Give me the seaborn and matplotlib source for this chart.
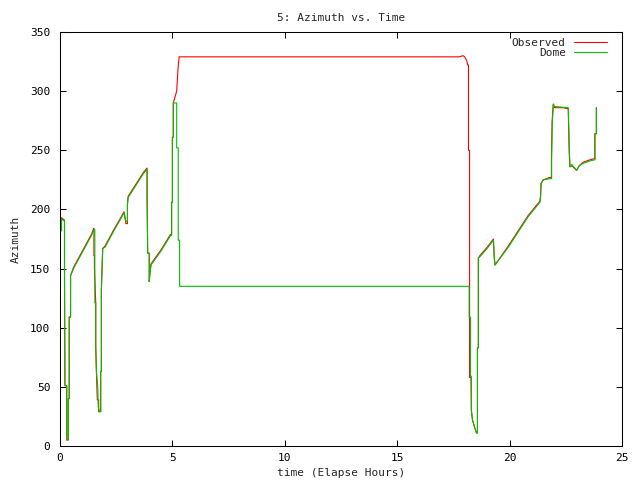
import matplotlib
matplotlib.use("Agg")
import matplotlib.pyplot as plt
import seaborn as sns
import pandas as pd

# ---- data ----
dome_t = [0.00, 0.00, 0.02, 0.02, 0.07, 0.07, 0.20, 0.20, 0.22, 0.30, 0.30, 0.37, 0.37, 0.41, 0.41, 0.47, 0.47,
          0.60, 0.80, 1.00, 1.20, 1.40, 1.51, 1.55, 1.55, 1.59, 1.59, 1.62, 1.68, 1.70, 1.76, 1.81, 1.81, 1.84, 1.84, 1.90,
          2.00, 2.40, 2.85, 2.93, 3.00, 3.00, 3.03, 3.40, 3.70, 3.88, 3.88, 3.90, 3.97, 3.97, 4.00, 4.05,
          4.50, 4.92, 4.97, 4.97, 5.00, 5.00, 5.04, 5.04, 5.19, 5.19, 5.26, 5.26, 5.32, 5.32,
          18.20, 18.20, 18.26, 18.26, 18.30, 18.30, 18.35, 18.44, 18.53, 18.57, 18.57, 18.61, 18.61, 18.68,
          19.00, 19.28, 19.32, 19.35, 19.94, 20.83, 21.35, 21.38, 21.40, 21.50, 21.77, 21.87, 21.87, 21.90, 21.95,
          22.00, 22.61, 22.63, 22.66, 22.69, 22.77, 22.98, 23.10, 23.28, 23.58, 23.80, 23.80, 23.86, 23.86]
dome_az = [160, 167, 167, 182, 182, 192, 190, 144, 51, 51, 6, 6, 40, 40, 109, 109, 144,
           150, 157, 164, 171, 178, 183, 183, 121, 121, 84, 63, 50, 33, 29, 29, 63, 63, 132, 167,
           168, 182, 197, 190, 190, 204, 210, 221, 230, 234, 211, 163, 163, 139, 146, 153,
           165, 178, 178, 206, 206, 261, 261, 290, 290, 252, 252, 174, 174, 135,
           135, 109, 109, 59, 59, 30, 22, 16, 11, 11, 83, 83, 159, 160,
           167, 174, 159, 153, 168, 194, 206, 212, 222, 225, 226, 226, 242, 274, 289,
           287, 286, 273, 249, 236, 238, 233, 237, 239, 241, 242, 264, 264, 286]

obs_t = [0.00, 0.00, 0.02, 0.02, 0.06, 0.06, 0.20, 0.20, 0.22, 0.30, 0.30, 0.37, 0.37, 0.41, 0.41, 0.47, 0.47,
         0.60, 0.80, 1.00, 1.20, 1.40, 1.50, 1.51, 1.51, 1.53, 1.53, 1.59, 1.59, 1.64, 1.66, 1.72, 1.72, 1.76, 1.81, 1.81,
         1.84, 1.84, 1.90, 2.00, 2.40, 2.85, 2.93, 3.00, 3.00, 3.03, 3.40, 3.70, 3.87, 3.87, 3.90, 3.97, 3.97,
         4.00, 4.05, 4.50, 4.92, 4.96, 4.96, 5.00, 5.00, 5.04, 5.04, 5.19, 5.19, 5.25, 5.25, 5.30, 5.30,
         17.76, 17.93, 18.00, 18.09, 18.14, 18.17, 18.17, 18.22, 18.22, 18.28, 18.30, 18.30, 18.35, 18.44,
         18.53, 18.57, 18.57, 18.61, 18.61, 18.68, 19.00, 19.28, 19.32, 19.35, 19.94, 20.83, 21.35, 21.38, 21.40,
         21.50, 21.77, 21.86, 21.86, 21.89, 21.94, 22.00, 22.40, 22.61, 22.62, 22.65, 22.68, 22.77, 22.98,
         23.10, 23.28, 23.58, 23.79, 23.79, 23.86, 23.86]
obs_az = [162, 167, 167, 182, 182, 193, 191, 144, 51, 51, 5, 5, 40, 40, 109, 109, 144,
          151, 158, 165, 172, 179, 184, 184, 161, 161, 151, 121, 84, 50, 39, 39, 29, 29, 29, 63,
          63, 132, 167, 169, 183, 198, 188, 188, 204, 211, 222, 231, 235, 211, 163, 163, 139,
          146, 154, 166, 179, 179, 206, 206, 261, 261, 290, 300, 300, 319, 319, 329, 329,
          329, 330, 329, 326, 322, 322, 250, 250, 58, 58, 30, 30, 22, 16,
          11, 11, 83, 83, 159, 161, 168, 175, 159, 153, 169, 195, 207, 212, 222,
          225, 227, 227, 242, 274, 289, 286, 286, 285, 273, 249, 236, 237, 233,
          237, 240, 242, 243, 264, 264, 286]

x_ticks = [0, 5, 10, 15, 20, 25]
y_ticks = [0, 50, 100, 150, 200, 250, 300, 350]

df_obs = pd.DataFrame({"t": obs_t, "az": obs_az})
df_dome = pd.DataFrame({"t": dome_t, "az": dome_az})

sns.set_style("ticks")
plt.rcParams["font.family"] = ["DejaVu Sans Mono", "DejaVu Sans"]

fig = plt.figure(figsize=(6.4, 4.8), dpi=100)
ax = fig.add_axes([60 / 640, 1 - 446 / 480, (622 - 60) / 640, (446 - 32) / 480])

sns.lineplot(data=df_obs, x="t", y="az", ax=ax, color="#ff0000", lw=0.8,
             estimator=None, sort=False, label="Observed")
sns.lineplot(data=df_dome, x="t", y="az", ax=ax, color="#00c000", lw=0.8,
             estimator=None, sort=False, label="Dome")

ax.set_xlim(0, 25)
ax.set_ylim(0, 350)
ax.set_xticks(x_ticks)
ax.set_yticks(y_ticks)
ax.tick_params(direction="in", length=4.5, width=0.75, top=True, right=True,
               labelsize=8, colors="black")
ax.tick_params(axis="x", pad=5)
ax.tick_params(axis="y", pad=7)
for s in ax.spines.values():
    s.set_visible(True)
    s.set_linewidth(0.75)
    s.set_color("black")

ax.set_title("5: Azimuth vs. Time", fontsize=8, pad=8)
ax.set_xlabel("time (Elapse Hours)", fontsize=8, labelpad=3.5)
ax.set_ylabel("Azimuth", fontsize=8, labelpad=7)

leg = ax.legend(loc="upper right", bbox_to_anchor=(0.981, 0.997), frameon=False,
                markerfirst=False, fontsize=8, handlelength=3.0, labelspacing=0.05,
                borderaxespad=0.0, handletextpad=0.7)

fig.savefig("out.png", dpi=100)
